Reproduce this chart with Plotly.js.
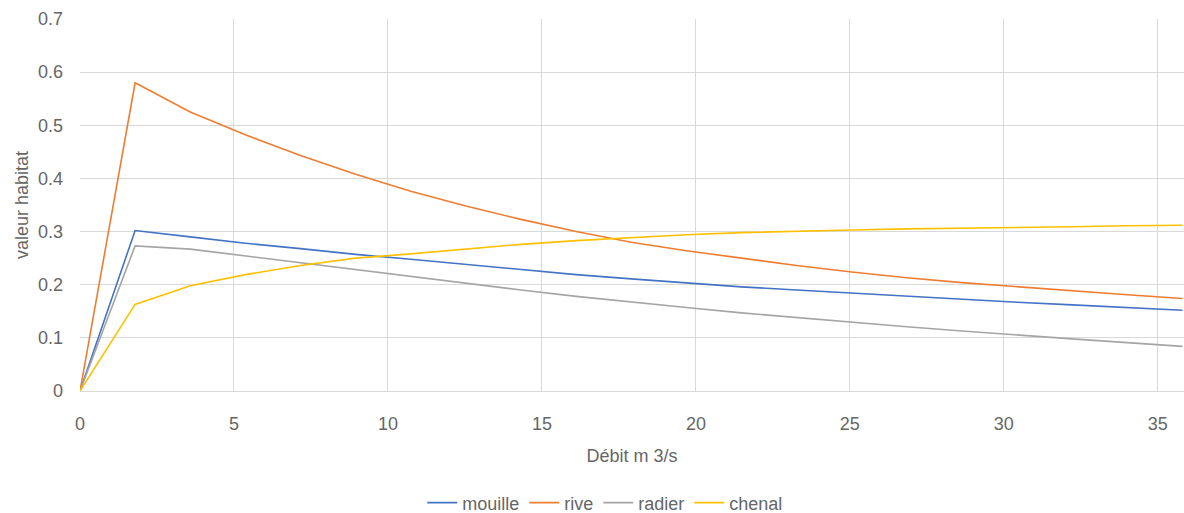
<!DOCTYPE html>
<html><head><meta charset="utf-8">
<script src="https://cdn.plot.ly/plotly-3.0.1.min.js"></script>
<style>html,body{margin:0;padding:0;background:#fff}#c{width:1184px;height:513px}</style>
</head><body><div id="c"></div>
<script>
const debit = [0, 1.79, 3.58, 5.37, 7.16, 8.95, 10.74, 12.53, 14.32, 16.11, 17.9, 19.69, 21.48, 23.27, 25.06, 26.85, 28.64, 30.43, 32.22, 34.01, 35.8];
const mouille = [0, 0.302, 0.290, 0.278, 0.268, 0.257, 0.248, 0.238, 0.228, 0.219, 0.211, 0.203, 0.196, 0.190, 0.184, 0.178, 0.172, 0.167, 0.162, 0.157, 0.152];
const rive = [0, 0.580, 0.525, 0.482, 0.443, 0.408, 0.376, 0.348, 0.323, 0.300, 0.280, 0.264, 0.250, 0.236, 0.224, 0.213, 0.204, 0.196, 0.188, 0.181, 0.174];
const radier = [0, 0.273, 0.267, 0.254, 0.242, 0.229, 0.215, 0.202, 0.190, 0.178, 0.167, 0.157, 0.147, 0.138, 0.129, 0.121, 0.113, 0.105, 0.098, 0.091, 0.084];
const chenal = [0, 0.163, 0.198, 0.219, 0.236, 0.250, 0.258, 0.267, 0.276, 0.283, 0.289, 0.294, 0.298, 0.301, 0.303, 0.305, 0.306, 0.308, 0.309, 0.311, 0.312];
const names = ['mouille', 'rive', 'radier', 'chenal'];
const colors = ['#4472C4', '#ED7D31', '#A5A5A5', '#FFC000'];
const series = [mouille, rive, radier, chenal];

const font = {family: 'Liberation Sans, Arial, sans-serif', size: 18, color: '#666666'};
const traces = series.map((s, i) => ({
  x: debit, y: s, type: 'scatter', mode: 'lines', name: names[i],
  line: {color: colors[i], width: 1.6}
}));
const layout = {
  width: 1184, height: 513,
  margin: {l: 80, r: 0, t: 19, b: 122, autoexpand: false},
  paper_bgcolor: '#fff', plot_bgcolor: '#fff',
  font: font,
  showlegend: true,
  legend: {orientation: 'h', x: 0.31, xanchor: 'left', y: -0.301, yanchor: 'middle', font: font, itemwidth: 30},
  xaxis: {
    range: [0, 35.85], dtick: 5, tick0: 0, showgrid: true, gridcolor: '#d9d9d9', gridwidth: 1,
    zeroline: false, showline: true, linecolor: '#d9d9d9', ticks: '', ticklabelstandoff: 16,
    tickfont: font, automargin: false,
    title: {text: 'Débit m 3/s', font: font, standoff: 16}
  },
  yaxis: {
    range: [0, 0.7], dtick: 0.1, showgrid: true, gridcolor: '#d9d9d9', gridwidth: 1,
    zeroline: false, showline: false, ticks: '', ticklabelstandoff: 16,
    tickfont: font, automargin: false,
    title: {text: 'valeur habitat', font: font, standoff: 4}
  }
};
Plotly.newPlot('c', traces, layout, {displayModeBar: false, staticPlot: true});
</script></body></html>
